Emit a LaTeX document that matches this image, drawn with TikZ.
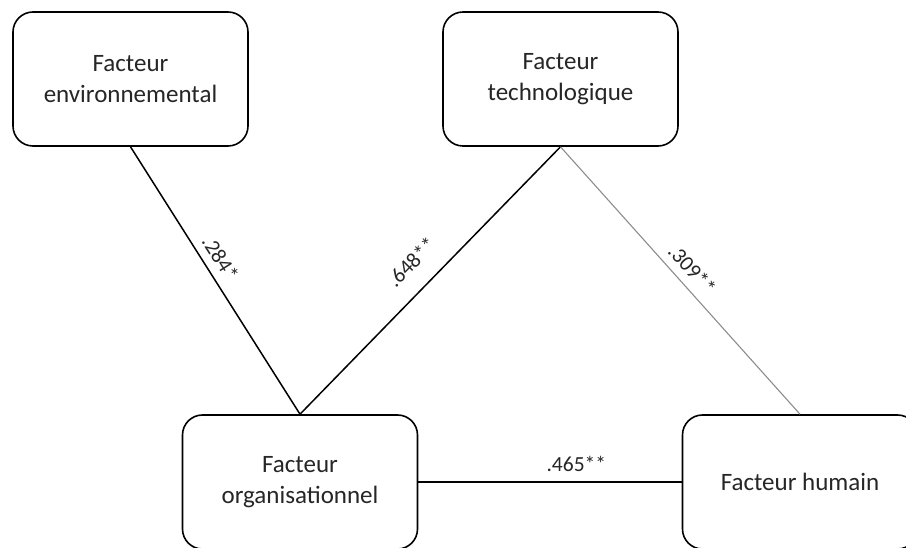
\documentclass[tikz,border=0pt]{standalone}
\usepackage{fontspec}
\setmainfont{Carlito}
\begin{document}
\begin{tikzpicture}[x=1pt,y=1pt,
  factor/.style={draw=black,line width=1.6pt,rounded corners=20pt,fill=white,
    minimum width=235pt,minimum height=134pt,align=center,inner sep=0pt,
    text=black!85,font=\fontsize{25}{31}\selectfont},
  link/.style={draw=black,line width=1.5pt},
  softlink/.style={draw=black!45,line width=1.1pt},
  coef/.style={font=\fontsize{21.5}{24}\selectfont,text=black!85,inner sep=1pt}]
\useasboundingbox (0,-548) rectangle (906,0);
\clip (0,-548) rectangle (906,0);

% the four factors
\node[factor] (env) at (130.5,-79) {Facteur\\environnemental};
\node[factor] (tech) at (560.5,-79) {Facteur\\technologique};
\node[factor] (org) at (300,-482) {Facteur\\organisationnel};
\node[factor] (hum) at (800,-482) {Facteur humain};

% correlations between the factors
\draw[link] (env.south) -- node[coef,sloped,above=7pt,pos=0.45] {.284*} (org.north);
\draw[link] (org.north) -- node[coef,sloped,above=17pt,pos=0.5] {.648**} (tech.south);
\draw[softlink] (tech.south) -- node[coef,sloped,above=7pt,pos=0.5] {.309**} (hum.north);
\draw[link] (org.east) -- node[coef,above=9pt,pos=0.6] {.465**} (hum.west);
\end{tikzpicture}
\end{document}
